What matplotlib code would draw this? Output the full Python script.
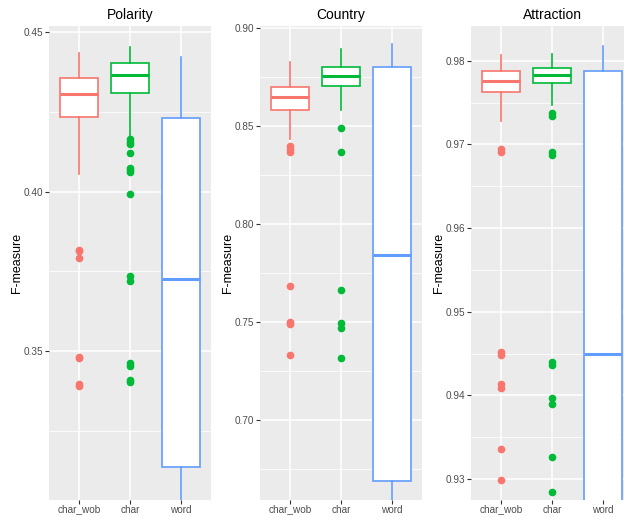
import matplotlib
matplotlib.use("Agg")
import matplotlib.pyplot as plt

plt.rcParams['font.family'] = ['Liberation Sans', 'DejaVu Sans']

groups = ["char_wob", "char", "word"]
colors = ["#F8766D", "#00BA38", "#619CFF"]
titles = ["Polarity", "Country", "Attraction"]

# box stats per panel: (whislo, q1, med, q3, whishi) for char_wob, char, word
polarity_stats = [
    (0.4055, 0.4235, 0.4306, 0.4358, 0.4434),
    (0.4170, 0.4310, 0.4367, 0.4403, 0.4453),
    (0.2900, 0.3136, 0.3726, 0.4230, 0.4424),
]
polarity_fliers = [
    [0.3818, 0.3815, 0.3792, 0.3482, 0.3478, 0.3397, 0.3392],
    [0.4165, 0.4157, 0.4150, 0.4122, 0.4076, 0.4068, 0.4061, 0.3994,
     0.3737, 0.3721, 0.3462, 0.3452, 0.3410, 0.3402],
    [],
]
country_stats = [
    (0.8437, 0.8583, 0.8648, 0.8700, 0.8830),
    (0.8585, 0.8706, 0.8757, 0.8804, 0.8893),
    (0.6400, 0.6692, 0.7843, 0.8803, 0.8920),
]
country_fliers = [
    [0.8401, 0.8384, 0.8369, 0.7685, 0.7503, 0.7491, 0.7332],
    [0.8493, 0.8369, 0.7663, 0.7496, 0.7469, 0.7319],
    [],
]
attraction_stats = [
    (0.97283, 0.97622, 0.9776, 0.9788, 0.98065),
    (0.97467, 0.9773, 0.97833, 0.9791, 0.98076),
    (0.9100, 0.9200, 0.94492, 0.97873, 0.98172),
]
attraction_fliers = [
    [0.96945, 0.9691, 0.94523, 0.94484, 0.94137, 0.94093, 0.93364, 0.9299],
    [0.97379, 0.9734, 0.96913, 0.96873, 0.94404, 0.94364, 0.93974, 0.9390,
     0.93262, 0.92847],
    [],
]

panel_stats = [polarity_stats, country_stats, attraction_stats]
panel_fliers = [polarity_fliers, country_fliers, attraction_fliers]
ylims = [(0.3033, 0.452), (0.6593, 0.9012), (0.92751, 0.98414)]
major_ticks = [[0.35, 0.40, 0.45], [0.70, 0.75, 0.80, 0.85, 0.90],
               [0.93, 0.94, 0.95, 0.96, 0.97, 0.98]]
minor_ticks = [[0.325, 0.375, 0.425], [0.675, 0.725, 0.775, 0.825, 0.875],
               [0.935, 0.945, 0.955, 0.965, 0.975]]

fig = plt.figure(figsize=(6.24, 5.17), dpi=100)
lefts = [49 / 624, 260 / 624, 471 / 624]
width = 162 / 624
bottom = 1 - 500 / 517
height = 474 / 517

for i in range(3):
    ax = fig.add_axes([lefts[i], bottom, width, height])
    ax.set_facecolor("#EBEBEB")
    for s in ax.spines.values():
        s.set_visible(False)
    ax.set_axisbelow(True)
    for t in major_ticks[i]:
        ax.axhline(t, color="white", lw=1.1, zorder=0)
    for t in minor_ticks[i]:
        ax.axhline(t, color="white", lw=0.55, zorder=0)
    for k in range(3):
        ax.axvline(k + 1, color="white", lw=1.1, zorder=0)

    for k in range(3):
        lo, q1, med, q3, hi = panel_stats[i][k]
        st = dict(whislo=lo, q1=q1, med=med, q3=q3, whishi=hi,
                  fliers=panel_fliers[i][k])
        c = colors[k]
        ax.bxp([st], positions=[k + 1], widths=0.75, showcaps=False,
               patch_artist=True,
               boxprops=dict(facecolor="white", edgecolor=c, lw=1.2),
               medianprops=dict(color=c, lw=2.2),
               whiskerprops=dict(color=c, lw=1.2),
               flierprops=dict(marker="o", markerfacecolor=c,
                               markeredgecolor=c, markersize=4.5))

    ax.set_xlim(0.4, 3.6)
    ax.set_ylim(*ylims[i])
    ax.set_xticks([1, 2, 3])
    ax.set_xticklabels(groups)
    ax.set_yticks(major_ticks[i])
    ax.set_yticklabels(["{:.2f}".format(t) for t in major_ticks[i]])
    ax.tick_params(axis="both", colors="#333333", length=2.8, width=0.8,
                   labelcolor="#4D4D4D", labelsize=7.2, pad=1.5)
    ax.tick_params(axis="x", pad=0.5)
    ax.set_title(titles[i], fontsize=10, pad=5)
    ax.set_ylabel("F-measure", fontsize=9, labelpad=0)

fig.savefig("out.png", dpi=100)
